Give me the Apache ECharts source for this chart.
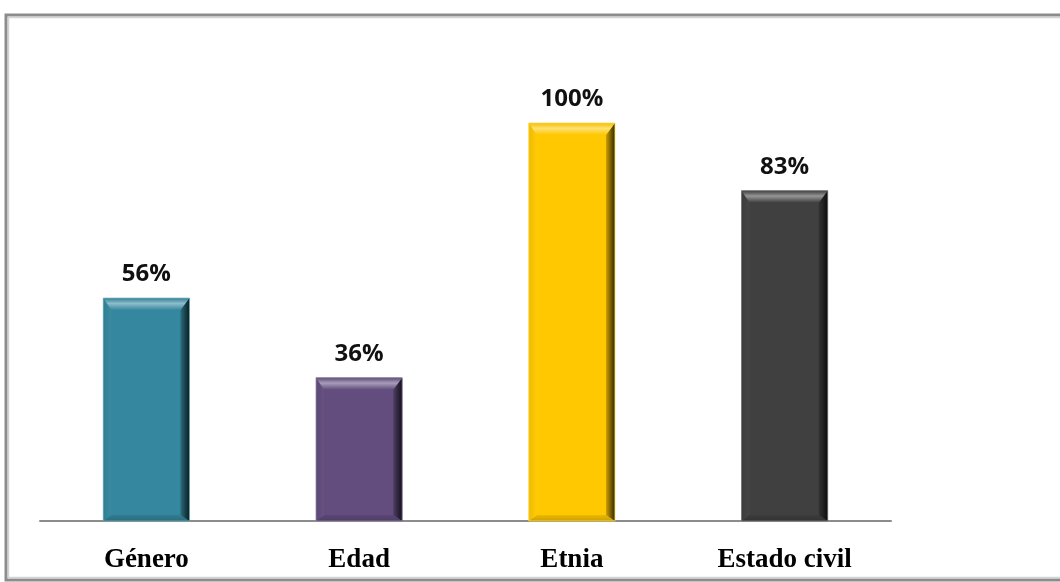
<!DOCTYPE html>
<html><head><meta charset="utf-8">
<script src="https://cdn.jsdelivr.net/npm/echarts@6/dist/echarts.min.js"></script>
<style>html,body{margin:0;padding:0;background:#fff}#c{width:1060px;height:582px}</style>
</head><body><div id="c"></div>
<script>
var categories = ['Género', 'Edad', 'Etnia', 'Estado civil'];
var values = [56, 36, 100, 83];
var labels = ['56%', '36%', '100%', '83%'];
var colors = ['#34879E', '#624D7E', '#FFC800', '#404040'];

function shade(hex, f) {
  var n = parseInt(hex.slice(1), 16);
  var r = (n >> 16) & 255, g = (n >> 8) & 255, b = n & 255;
  function m(c) { return Math.max(0, Math.min(255, Math.round(f >= 0 ? c + (255 - c) * f : c * (1 + f)))); }
  return 'rgb(' + m(r) + ',' + m(g) + ',' + m(b) + ')';
}

var chart = echarts.init(document.getElementById('c'));
chart.setOption({
  animation: false,
  graphic: [{
    type: 'rect', shape: { x: 6, y: 15, width: 1070, height: 565 },
    style: { fill: 'none', stroke: '#8c8c8c', lineWidth: 3 }, z: 100
  }, {
    type: 'rect', shape: { x: 8.5, y: 17.5, width: 1070, height: 560 },
    style: { fill: 'none', stroke: '#d4d4d4', lineWidth: 1.5 }, z: 100
  }],
  grid: { left: 40, right: 169, top: 123, bottom: 61 },
  xAxis: {
    type: 'category', data: categories,
    axisLine: { lineStyle: { color: '#8c8c8c', width: 2 } },
    axisTick: { show: false },
    axisLabel: { margin: 26, fontFamily: 'Liberation Serif', fontWeight: 'bold', fontSize: 27, color: '#000' }
  },
  yAxis: { type: 'value', min: 0, max: 100, show: false, splitLine: { show: false } },
  series: [{
    type: 'custom',
    data: values.map(function (v, i) { return [i, v]; }),
    renderItem: function (params, api) {
      var i = api.value(0), v = api.value(1);
      var top = api.coord([i, v]);
      var base = api.coord([i, 0]);
      var w = api.size([1, 0])[0] * 0.405;
      var x0 = top[0] - w / 2, x1 = top[0] + w / 2, y0 = top[1], y1 = base[1];
      var c = colors[i];
      var bt = 12, br = 9, bl = 8, bb = 6;
      return {
        type: 'group',
        children: [
          { type: 'rect', shape: { x: x0, y: y0, width: w, height: y1 - y0 },
            style: { fill: c } },
          { type: 'polygon', shape: { points: [[x0, y1], [x1, y1], [x1 - br, y1 - bb], [x0 + bl, y1 - bb]] },
            style: { fill: new echarts.graphic.LinearGradient(0, 0, 0, 1, [
              { offset: 0, color: shade(c, -0.08) }, { offset: 1, color: shade(c, -0.2) }]) } },
          { type: 'polygon', shape: { points: [[x0, y0], [x0 + bl, y0 + bt], [x0 + bl, y1 - bb], [x0, y1]] },
            style: { fill: new echarts.graphic.LinearGradient(0, 0, 1, 0, [
              { offset: 0, color: shade(c, -0.07) }, { offset: 1, color: shade(c, 0.03) }]) } },
          { type: 'polygon', shape: { points: [[x1, y0], [x1, y1], [x1 - br, y1 - bb], [x1 - br, y0 + bt]] },
            style: { fill: new echarts.graphic.LinearGradient(0, 0, 1, 0, [
              { offset: 0, color: shade(c, -0.2) }, { offset: 0.5, color: shade(c, -0.5) }, { offset: 1, color: shade(c, -0.8) }]) } },
          { type: 'polygon', shape: { points: [[x0, y0], [x1, y0], [x1 - br, y0 + bt], [x0 + bl, y0 + bt]] },
            style: { fill: new echarts.graphic.LinearGradient(0, 0, 0, 1, [
              { offset: 0, color: shade(c, -0.05) }, { offset: 0.45, color: shade(c, 0.45) }, { offset: 0.75, color: shade(c, 0.2) }, { offset: 1, color: c }]) } },
          { type: 'rect', shape: { x: x0, y: y0, width: w, height: y1 - y0 },
            style: { fill: 'none', stroke: shade(c, 0.3), lineWidth: 0.8 } },
          { type: 'text', x: top[0], y: y0 - 24,
            style: { text: labels[i], textAlign: 'center', textVerticalAlign: 'middle',
              fontFamily: 'Open Sans', fontWeight: 'bold', fontSize: 24, fill: '#111' } }
        ]
      };
    }
  }]
});
</script></body></html>
